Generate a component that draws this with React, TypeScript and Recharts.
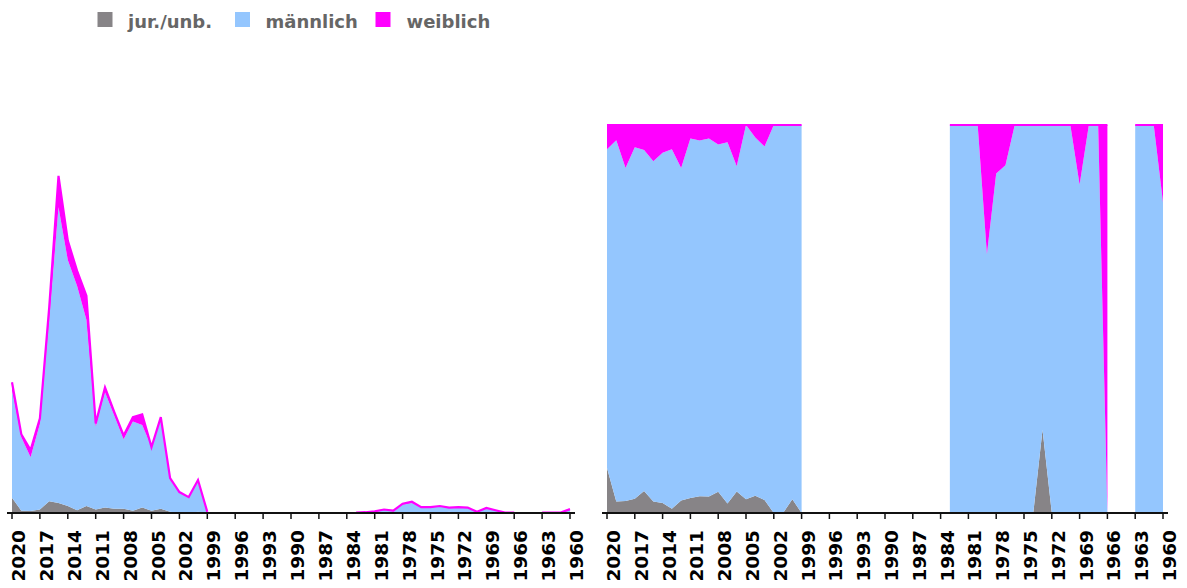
import { AreaChart, Area, XAxis, YAxis } from "recharts";

// Jahre (absteigend, wie auf der Achse)
const years = [
  2020, 2019, 2018, 2017, 2016, 2015, 2014, 2013, 2012, 2011, 2010, 2009, 2008,
  2007, 2006, 2005, 2004, 2003, 2002, 2001, 2000, 1999, 1998, 1997, 1996, 1995,
  1994, 1993, 1992, 1991, 1990, 1989, 1988, 1987, 1986, 1985, 1984, 1983, 1982,
  1981, 1980, 1979, 1978, 1977, 1976, 1975, 1974, 1973, 1972, 1971, 1970, 1969,
  1968, 1967, 1966, 1965, 1964, 1963, 1962, 1961, 1960,
];

const jurUnb = [
  39, 6, 5, 9, 30, 26, 18, 7, 18, 9, 14, 11, 11, 6, 14, 6, 11, 3, 0, 0, 3, 0,
  null, null, null, null, null, null, null, null, null, null, null, null, null, null, null,
  0, 0, 0, 0, 0, 0, 0, 0, 0, 0, 3, 0, 0, 0, 0, 0, 0, 0,
  null, null,
  0, 0, 0, 0,
];

const maennlich = [
  277, 189, 139, 221, 466, 762, 634, 578, 480, 214, 297, 240, 179, 230, 213, 164,
  228, 82, 54, 41, 82, 3,
  null, null, null, null, null, null, null, null, null, null, null, null, null, null, null,
  1, 2, 4, 9, 4, 21, 26, 15, 15, 18, 11, 15, 14, 3, 11, 7, 1, 0,
  null, null,
  1, 1, 1, 8,
];

const weiblich = [
  21, 8, 18, 14, 34, 81, 50, 39, 62, 8, 13, 9, 10, 11, 27, 0, 8, 5, 0, 0, 0, 0,
  null, null, null, null, null, null, null, null, null, null, null, null, null, null, null,
  0, 0, 0, 0, 2, 3, 3, 0, 0, 0, 0, 0, 0, 0, 2, 0, 0, 1,
  null, null,
  0, 0, 0, 2,
];

const series = [
  { key: "jur", name: "jur./unb.", color: "#878487" },
  { key: "maennlich", name: "männlich", color: "#94c6fe" },
  { key: "weiblich", name: "weiblich", color: "#ff00ff" },
];

const data = years.map((jahr, i) => ({
  jahr: String(jahr),
  jur: jurUnb[i],
  maennlich: maennlich[i],
  weiblich: weiblich[i],
}));

const font = "'DejaVu Sans', Verdana, sans-serif";

const YearTick = (props: any) => {
  const { x, y, payload } = props;
  return (
    <text
      transform={`translate(${x + 13},${y + 9}) rotate(-90)`}
      textAnchor="end"
      fontFamily={font}
      fontWeight="bold"
      fontSize={18.5}
      fill="#000"
    >
      {payload.value}
    </text>
  );
};

const legendPos = [
  { box: 97.5, text: 128 },
  { box: 235, text: 265.5 },
  { box: 375.5, text: 406.5 },
];

const LegendTop = () => (
  <svg
    width={600}
    height={40}
    style={{ position: "absolute", left: 0, top: 0 }}
  >
    {series.map((s, i) => (
      <g key={s.key}>
        <rect x={legendPos[i].box} y={12} width={15} height={15} fill={s.color} />
        <text
          x={legendPos[i].text}
          y={28}
          fontFamily={font}
          fontWeight="bold"
          fontSize={18}
          fill="#666"
        >
          {s.name}
        </text>
      </g>
    ))}
  </svg>
);

const renderAreas = (strokeTop: number) =>
  series.map((s) => (
    <Area
      key={s.key}
      type="linear"
      dataKey={s.key}
      name={s.name}
      stackId="1"
      fill={s.color}
      fillOpacity={1}
      stroke={s.key === "weiblich" ? s.color : "none"}
      strokeWidth={s.key === "weiblich" ? strokeTop : 0}
      dot={false}
      activeDot={false}
      isAnimationActive={false}
    />
  ));

const xAxisProps = {
  dataKey: "jahr",
  interval: 2,
  height: 75,
  padding: { left: 5, right: 5 },
  tickSize: 6,
  tickMargin: 2,
  axisLine: { stroke: "#111", strokeWidth: 2 },
  tickLine: { stroke: "#111", strokeWidth: 1.5 },
  tick: <YearTick />,
};

export default function App() {
  return (
    <div
      style={{
        position: "absolute",
        left: 0,
        top: 0,
        width: 1187,
        height: 588,
        background: "#fff",
      }}
    >
      <LegendTop />
      <div style={{ position: "absolute", left: 0, top: 0 }}>
        <AreaChart
          width={590}
          height={588}
          data={data}
          margin={{ top: 125, right: 15, bottom: 0, left: 7 }}
        >
          <XAxis {...(xAxisProps as any)} />
          <YAxis hide domain={[0, 1000]} />
          {renderAreas(2.2)}
        </AreaChart>
      </div>
      <div style={{ position: "absolute", left: 595, top: 0 }}>
        <AreaChart
          width={592}
          height={588}
          data={data}
          stackOffset="expand"
          margin={{ top: 125, right: 19, bottom: 0, left: 7 }}
        >
          <XAxis {...(xAxisProps as any)} />
          <YAxis hide domain={[0, 1]} />
          {renderAreas(2)}
        </AreaChart>
      </div>
    </div>
  );
}
